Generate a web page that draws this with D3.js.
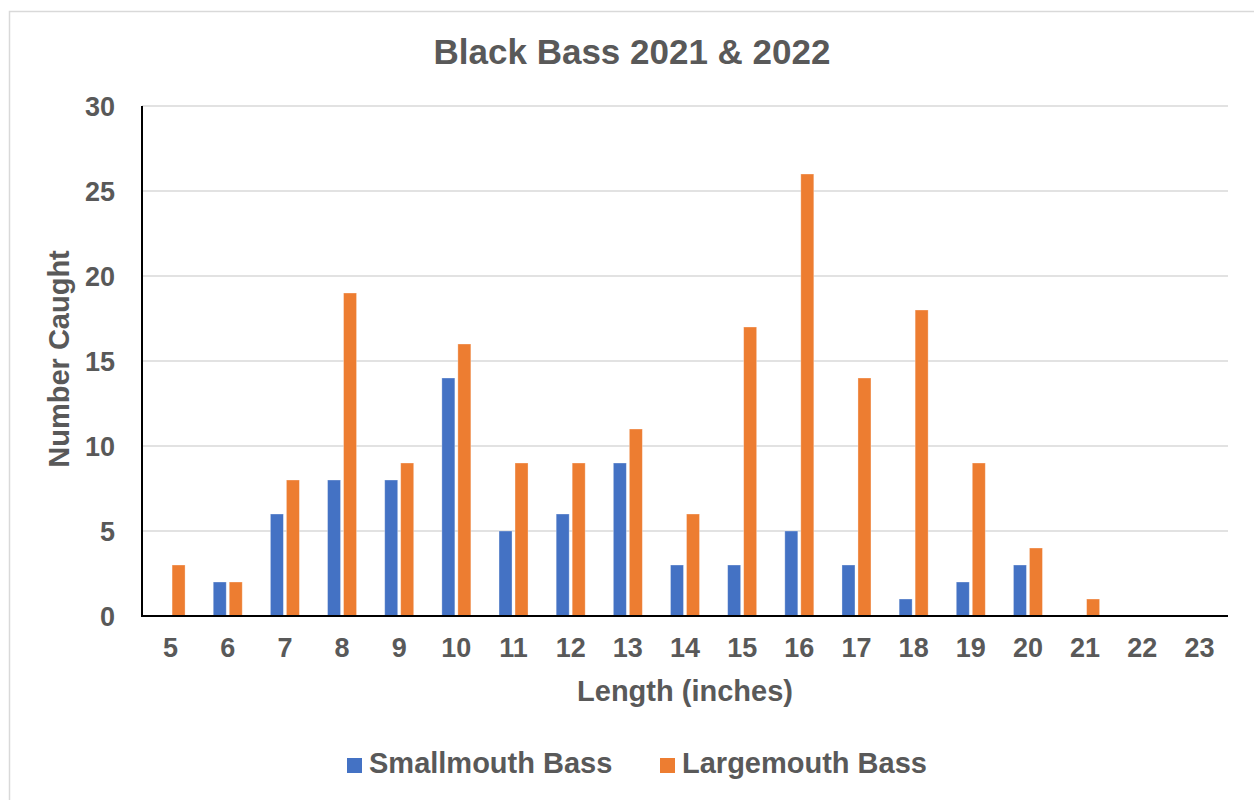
<!DOCTYPE html>
<html><head><meta charset="utf-8">
<script src="https://cdn.jsdelivr.net/npm/d3@7"></script>
<style>body{margin:0;background:#fff}svg{display:block}text{font-family:"Liberation Sans",Arial,sans-serif;font-weight:bold;fill:#595959}</style>
</head><body><svg id="c" width="1254" height="800"></svg>
<script>
const categories = ["5","6","7","8","9","10","11","12","13","14","15","16","17","18","19","20","21","22","23"];
const smallmouth = [0,2,6,8,8,14,5,6,9,3,3,5,3,1,2,3,0,0,0];
const largemouth = [3,2,8,19,9,16,9,9,11,6,17,26,14,18,9,4,1,0,0];
const seriesNames = ["Smallmouth Bass","Largemouth Bass"];
const colors = ["#4472C4","#ED7D31"];
const yTicks = [0,5,10,15,20,25,30];

const svg = d3.select("#c");
svg.append("rect").attr("x",9.5).attr("y",11.5).attr("width",1260).attr("height",800).attr("fill","#fff").attr("stroke","#d9d9d9").attr("stroke-width",1.5);

const L=142,R=1228,T=106,B=616;
const x = d3.scaleBand().domain(categories).range([L,R]);
const y = d3.scaleLinear().domain([0,30]).range([B,T]);

svg.append("g").selectAll("line").data(yTicks.filter(d=>d>0)).join("line")
  .attr("x1",L).attr("x2",R).attr("y1",d=>y(d)).attr("y2",d=>y(d))
  .attr("stroke","#d9d9d9").attr("stroke-width",1.5);

const bw = 13, gap = 3;
const data = [smallmouth, largemouth];
data.forEach((vals,si)=>{
  svg.append("g").selectAll("rect").data(vals.map((v,i)=>({c:categories[i],v}))).join("rect")
    .attr("x",d=>x(d.c)+x.bandwidth()/2 + (si===0 ? -gap/2-bw : gap/2))
    .attr("y",d=>y(d.v)).attr("width",bw).attr("height",d=>y(0)-y(d.v))
    .attr("fill",colors[si]).attr("stroke","#fff").attr("stroke-opacity",0.4).attr("stroke-width",0.8)
    .style("display",d=>d.v>0?null:"none");
});

svg.append("line").attr("x1",L).attr("x2",L).attr("y1",T).attr("y2",B+1).attr("stroke","#000").attr("stroke-width",2);
svg.append("line").attr("x1",L-1).attr("x2",R).attr("y1",B).attr("y2",B).attr("stroke","#000").attr("stroke-width",2);

const yAxis = d3.axisLeft(y).tickValues(yTicks).tickSize(0).tickPadding(27);
const gy = svg.append("g").attr("transform",`translate(${L},0)`).call(yAxis);
gy.select(".domain").remove();
gy.selectAll("text").style("font-size","27px").attr("fill","#595959").attr("dy","0.36em");

const xAxis = d3.axisBottom(x).tickSize(0).tickPadding(22);
const gx = svg.append("g").attr("transform",`translate(0,${B})`).call(xAxis);
gx.select(".domain").remove();
gx.selectAll("text").style("font-size","27px").attr("fill","#595959");

svg.append("text").attr("x",632).attr("y",64).attr("text-anchor","middle").style("font-size","35px").text("Black Bass 2021 & 2022");
svg.append("text").attr("x",685).attr("y",701).attr("text-anchor","middle").style("font-size","29px").text("Length (inches)");
svg.append("text").attr("transform","translate(69,359) rotate(-90)").attr("text-anchor","middle").style("font-size","29px").text("Number Caught");

const leg = svg.append("g");
const lx = [347,660];
seriesNames.forEach((n,i)=>{
  leg.append("rect").attr("x",lx[i]).attr("y",758).attr("width",15).attr("height",15).attr("fill",colors[i]);
  leg.append("text").attr("x",lx[i]+22).attr("y",773).style("font-size","29px").text(n);
});
</script></body></html>
